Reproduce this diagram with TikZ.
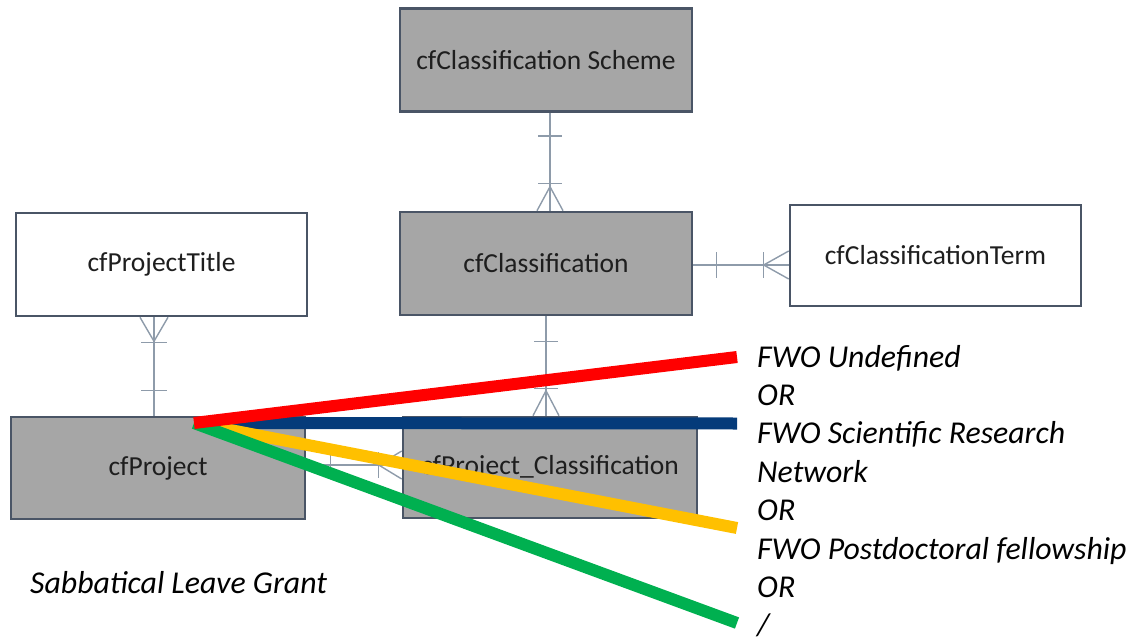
\documentclass[tikz,border=0pt]{standalone}
\usepackage{fontspec}
\setmainfont{Carlito}
\usetikzlibrary{calc}
\definecolor{boxgray}{HTML}{A6A6A6}
\definecolor{boxline}{HTML}{4A5566}
\definecolor{relcol}{HTML}{8E9BAA}
\definecolor{txt}{HTML}{1E1E1E}
\definecolor{hlred}{HTML}{FF0000}
\definecolor{hlblue}{HTML}{053B7A}
\definecolor{hlyellow}{HTML}{FFC000}
\definecolor{hlgreen}{HTML}{00B050}
\begin{document}
\begin{tikzpicture}[x=1pt,y=-1pt,
  ent/.style={draw=boxline, line width=2.6pt, minimum width=292pt, minimum height=103pt, inner sep=0pt, font=\fontsize{27.5}{32}\selectfont, text=txt},
  grayent/.style={ent, fill=boxgray},
  whiteent/.style={ent, fill=white},
  rel/.style={draw=relcol, line width=1.4pt},
  lbl/.style={anchor=base west, inner sep=0pt, font=\fontsize{31.8}{38}\selectfont\itshape},
  hl/.style={line width=12pt}]
\useasboundingbox (0,0) rectangle (1130,642);

% entities
\node[grayent] (scheme) at (546,60) {cfClassification Scheme};
\node[grayent] (class) at (546,263.5) {cfClassification};
\node[whiteent, minimum width=291pt, minimum height=101pt] (term) at (935.5,255.5) {cfClassificationTerm};
\node[whiteent, minimum width=291pt] (title) at (161.5,264.5) {cfProjectTitle};
\node[grayent, minimum width=294pt, minimum height=102pt] (project) at (158,468) {cfProject};
\node[grayent, minimum width=294pt, minimum height=101pt] (pc) at (550,467.5) {cfProject\_Classification};

% scheme -> classification
\coordinate (sA) at ([xshift=4pt]scheme.south);
\coordinate (cA) at ([xshift=4pt]class.north);
\draw[rel] (sA) -- (cA);
\draw[rel] ($(sA)+(-12,23)$) -- ($(sA)+(12,23)$);
\draw[rel] ($(cA)+(-12,-27)$) -- ($(cA)+(12,-27)$);
\draw[rel] ($(cA)+(-13,0)$) -- ($(cA)+(0,-24)$) -- ($(cA)+(13,0)$);

% classification -> project_classification
\coordinate (cB) at (class.south);
\coordinate (pB) at (class.south |- pc.north);
\draw[rel] (cB) -- (pB);
\draw[rel] ($(cB)+(-12,25)$) -- ($(cB)+(12,25)$);
\draw[rel] ($(pB)+(-12,-27)$) -- ($(pB)+(12,-27)$);
\draw[rel] ($(pB)+(-13,0)$) -- ($(pB)+(0,-25)$) -- ($(pB)+(13,0)$);

% classification -> term
\coordinate (cC) at ([yshift=-1.5pt]class.east);
\coordinate (tC) at (cC -| term.west);
\draw[rel] (cC) -- (tC);
\draw[rel] ($(cC)+(23,-13)$) -- ($(cC)+(23,13)$);
\draw[rel] ($(tC)+(-25,-13)$) -- ($(tC)+(-25,13)$);
\draw[rel] ($(tC)+(0,-14)$) -- ($(tC)+(-25,0)$) -- ($(tC)+(0,14)$);

% title -> project
\coordinate (tD) at ([xshift=-7.5pt]title.south);
\coordinate (pD) at (tD |- project.north);
\draw[rel] (tD) -- (pD);
\draw[rel] ($(tD)+(-14,0)$) -- ($(tD)+(0,24)$) -- ($(tD)+(14,0)$);
\draw[rel] ($(tD)+(-13,25)$) -- ($(tD)+(13,25)$);
\draw[rel] ($(pD)+(-13,-25)$) -- ($(pD)+(13,-25)$);

% project -> project_classification
\coordinate (pE) at ([yshift=3pt]project.east);
\coordinate (qE) at (pE -| pc.west);
\draw[rel] (pE) -- (qE);
\draw[rel] ($(pE)+(24,-13)$) -- ($(pE)+(24,13)$);
\draw[rel] ($(qE)+(-23,-13)$) -- ($(qE)+(-23,13)$);
\draw[rel] ($(qE)+(0,-14)$) -- ($(qE)+(-23,0)$) -- ($(qE)+(0,14)$);

% highlight lines
\coordinate (hub) at (194,423);
\coordinate (eR) at (737,357);
\coordinate (eB) at (737,423.5);
\coordinate (eY) at (737,528);
\coordinate (eG) at (737,623);
\draw[hl, hlblue] (hub) -- (eB);
\draw[hl, hlyellow] (hub) -- (eY);
\draw[hl, hlgreen] (hub) -- (eG);
\draw[hl, hlred] (hub) -- (eR);

% labels
\node[lbl] (l1) at (757,367) {FWO Undefined};
\node[lbl] (l2) at (757,405) {OR};
\node[lbl] (l3) at (757,443) {FWO Scientific Research};
\node[lbl] (l4) at (757,482) {Network};
\node[lbl] (l5) at (757,520) {OR};
\node[lbl] (l6) at (757,559) {FWO Postdoctoral fellowship};
\node[lbl] (l7) at (757,597) {OR};
\node[lbl] (l8) at (757,635) {/};
\node[lbl] (sab) at (30,593) {Sabbatical Leave Grant};
\end{tikzpicture}
\end{document}
